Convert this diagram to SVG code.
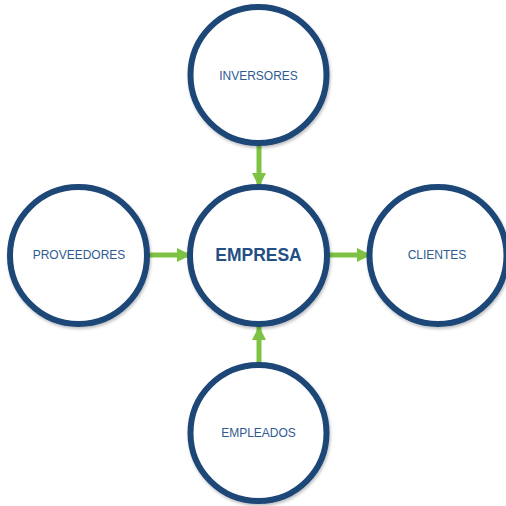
<svg xmlns="http://www.w3.org/2000/svg" width="506" height="506" viewBox="0 0 506 506">
  <style>
    .node circle { fill: #ffffff; stroke: #1d4677; stroke-width: 6; filter: url(#sh); }
    .lbl { font-family: "Liberation Sans", Arial, sans-serif; font-size: 12px; fill: #2f5b93; text-anchor: middle; }
    .main { font-family: "Liberation Sans", Arial, sans-serif; font-size: 17.5px; font-weight: bold; fill: #244f85; text-anchor: middle; }
    .conn line { stroke: #7dc242; stroke-width: 5; marker-end: url(#ah); }
  </style>
  <defs>
    <filter id="sh" x="-20%" y="-20%" width="140%" height="140%">
      <feDropShadow dx="1" dy="2" stdDeviation="1.5" flood-color="#000" flood-opacity="0.25"/>
    </filter>
    <marker id="ah" viewBox="0 0 14 14" markerWidth="14" markerHeight="14" refX="14" refY="7" orient="auto" markerUnits="userSpaceOnUse">
      <path d="M0,0 L14,7 L0,14 z" fill="#7dc242"/>
    </marker>
  </defs>
  <rect width="506" height="506" fill="#ffffff"/>
  <g id="connectors" class="conn">
    <line x1="259" y1="146" x2="259" y2="187"/>
    <line x1="150" y1="255" x2="191" y2="255"/>
    <line x1="330" y1="255" x2="371" y2="255"/>
    <line x1="259" y1="363" x2="259" y2="326"/>
  </g>
  <g id="inversores" class="node">
    <circle cx="258.5" cy="75" r="68"/>
    <text class="lbl" x="258.5" y="80">INVERSORES</text>
  </g>
  <g id="empresa" class="node">
    <circle cx="258.5" cy="255.5" r="68.5"/>
    <text class="main" x="258.5" y="261">EMPRESA</text>
  </g>
  <g id="proveedores" class="node">
    <circle cx="78.5" cy="255.5" r="68.5"/>
    <text class="lbl" x="79" y="259">PROVEEDORES</text>
  </g>
  <g id="clientes" class="node">
    <circle cx="438" cy="255.5" r="68.5"/>
    <text class="lbl" x="437" y="259">CLIENTES</text>
  </g>
  <g id="empleados" class="node">
    <circle cx="258.5" cy="433" r="68"/>
    <text class="lbl" x="258.5" y="437">EMPLEADOS</text>
  </g>
</svg>
